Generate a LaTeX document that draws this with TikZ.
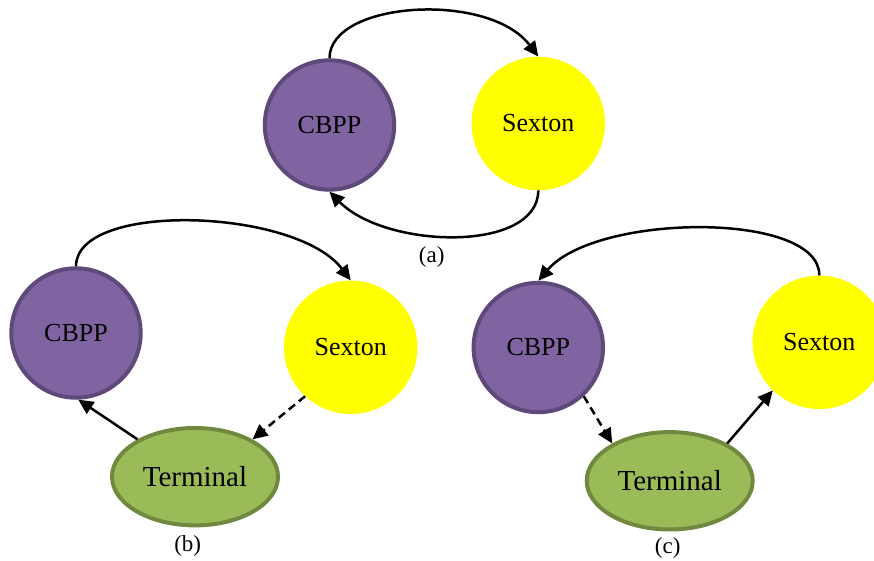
\documentclass[tikz,border=0pt]{standalone}
\usepackage{fontspec}
\setmainfont{Liberation Serif}
\usetikzlibrary{arrows.meta,shapes.geometric}

\definecolor{cbppfill}{HTML}{8064A2}
\definecolor{cbppline}{HTML}{5F497A}
\definecolor{termfill}{HTML}{9BBB59}
\definecolor{termline}{HTML}{71893F}
\definecolor{sextfill}{HTML}{FFFF00}

\tikzset{
  cbpp/.style={circle, fill=cbppfill, draw=cbppline, line width=4pt,
    minimum size=129.4pt, inner sep=0pt, font=\fontsize{26}{28}\selectfont},
  sexton/.style={circle, fill=sextfill, minimum size=133.4pt, inner sep=0pt,
    font=\fontsize{26}{28}\selectfont},
  terminal/.style={ellipse, fill=termfill, draw=termline, line width=4pt,
    minimum width=166pt, minimum height=97.4pt, inner sep=0pt,
    font=\fontsize{29}{31}\selectfont},
  caption/.style={font=\fontsize{23}{25}\selectfont, inner sep=0pt},
  link/.style={line width=2.5pt, -{Triangle[length=15pt,width=14pt]}},
  weaklink/.style={link, dash pattern=on 8pt off 5pt},
}

\begin{document}
\begin{tikzpicture}[x=1pt,y=1pt]
\clip (0,0) rectangle (874,561);

% (a) two-node cycle
\node[cbpp]   (acbpp) at (329.5,436)   {CBPP};
\node[sexton] (asext) at (538.3,437.5) {Sexton};
\node[caption] (acap) at (431.7,304.3) {(a)};
\draw[link] (acbpp.north) .. controls (329.5,560) and (488.7,570) .. (asext.north);
\draw[link] (asext.south) .. controls (538,308) and (386,312) .. (acbpp.south);

% (b) cycle through the terminal, Sexton side dashed
\node[cbpp]     (bcbpp) at (76,228)     {CBPP};
\node[sexton]   (bsext) at (350.7,213.7) {Sexton};
\node[terminal] (bterm) at (195,84.3)   {Terminal};
\node[caption]  (bcap)  at (187.7,15)   {(b)};
\draw[link] (bcbpp.north) .. controls (76,360) and (296,353) .. (bsext.north);
\draw[link] (bterm.147) -- (bcbpp.-88);
\draw[weaklink] (bsext.227) -- (bterm.33);

% (c) cycle through the terminal, CBPP side dashed
\node[cbpp]     (ccbpp) at (538.3,213.5) {CBPP};
\node[sexton]   (csext) at (819.3,218.7) {Sexton};
\node[terminal] (cterm) at (669.7,80.2)  {Terminal};
\node[caption]  (ccap)  at (667.7,12.7)  {(c)};
\draw[link] (csext.north) .. controls (820,350) and (596,348) .. (ccbpp.north);
\draw[weaklink] (ccbpp.-47) -- (cterm.147);
\draw[link] (cterm.33) -- (csext.226);
\end{tikzpicture}
\end{document}
